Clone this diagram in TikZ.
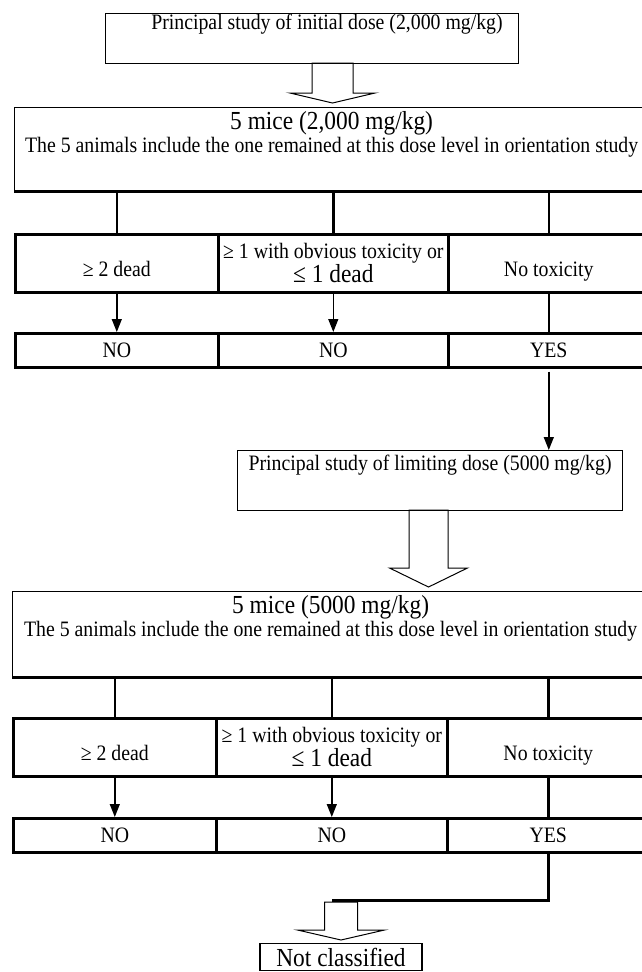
\documentclass[tikz,border=0pt]{standalone}
\usepackage{fontspec}
\setmainfont{Liberation Serif}[FakeStretch=0.9]
\usetikzlibrary{arrows.meta, positioning}

\newcommand{\largefont}{\fontsize{26}{30}\selectfont}
% x, top, shaft half width, shaft length, head half width, head length
\newcommand{\hollowdown}[6]{%
  \draw[hollow] (#1-#3,#2) -- ++(0,#4) -- (#1-#5,#2+#4) -- (#1,#2+#4+#6)
    -- (#1+#5,#2+#4) -- (#1+#3,#2+#4) -- (#1+#3,#2) -- cycle;}

\begin{document}
\begin{tikzpicture}[
  x=1pt, y=-1pt,
  every node/.style={inner sep=0pt, font=\fontsize{22}{24}\selectfont},
  thinbox/.style={draw, line width=1.2pt},
  cell/.style={draw, line width=2.6pt, anchor=north west, minimum height=58pt},
  answer/.style={draw, line width=2.6pt, anchor=north west, minimum height=34pt},
  lowtext/.style={text height=31pt, text depth=5pt},
  link/.style={line width=2.6pt},
  arrow/.style={-{Triangle[width=10pt,length=13pt]}, line width=1.4pt},
  hollow/.style={line width=1pt}
]
\useasboundingbox (0,0) rectangle (641,972);

% initial dose
\node (initial) [thinbox, anchor=north west, minimum width=413pt, minimum height=50pt] at (105,13) {};
\node (initialtxt) at (327,24) {Principal study of initial dose (2,000 mg/kg)};
\hollowdown{332.5}{63}{20.5}{30}{42.5}{10}

\node (mice1) [thinbox, anchor=north west, minimum width=634pt, minimum height=83pt] at (14,107) {};
\node (mice1txt) [below=4pt of mice1.north, align=center]
  {{\largefont 5 mice (2,000 mg/kg)}\\[-1pt]The 5 animals include the one remained at this dose level in orientation study};
\draw[link] (mice1.south west) -- (mice1.south east);

\node (dead1) [cell, lowtext, minimum width=203pt] at (14,233) {≥ 2 dead};
\node (tox1) [cell, minimum width=230pt, align=center] at (217,233)
  {≥ 1 with obvious toxicity or\\[0pt]{\largefont ≤ 1 dead}};
\node (none1) [cell, lowtext, minimum width=201pt] at (447,233) {No toxicity};

\draw[link] (dead1.north |- mice1.south) -- (dead1.north);
\draw[link] (tox1.north |- mice1.south) -- (tox1.north);
\draw[link] (none1.north |- mice1.south) -- (none1.north);

\node (no1a) [answer, minimum width=203pt] at (14,332) {NO};
\node (no1b) [answer, minimum width=230pt] at (217,332) {NO};
\node (yes1) [answer, minimum width=201pt] at (447,332) {YES};

\draw[arrow] (dead1.south) -- (no1a.north);
\draw[arrow] (tox1.south) -- (no1b.north);
\draw[link] (none1.south) -- (yes1.north);

% limiting dose
\node (limit) [thinbox, anchor=north west, minimum width=385pt, minimum height=60pt] at (237,450) {};
\node (limittxt) [below=5pt of limit.north] {Principal study of limiting dose (5000 mg/kg)};
\draw[arrow] ([yshift=-3pt]yes1.south) -- (yes1.south |- limit.north);
\hollowdown{428.5}{510}{19.5}{58}{39}{19}

\node (mice2) [thinbox, anchor=north west, minimum width=636pt, minimum height=85pt] at (12,591) {};
\node (mice2txt) [below=4pt of mice2.north, align=center]
  {{\largefont 5 mice (5000 mg/kg)}\\[-1pt]The 5 animals include the one remained at this dose level in orientation study};
\draw[link] (mice2.south west) -- (mice2.south east);

\node (dead2) [cell, lowtext, minimum width=203pt] at (12,717) {≥ 2 dead};
\node (tox2) [cell, minimum width=231pt, align=center] at (215,717)
  {≥ 1 with obvious toxicity or\\[0pt]{\largefont ≤ 1 dead}};
\node (none2) [cell, lowtext, minimum width=202pt] at (446,717) {No toxicity};

\draw[link] (dead2.north |- mice2.south) -- (dead2.north);
\draw[link] (tox2.north |- mice2.south) -- (tox2.north);
\draw[link] (none2.north |- mice2.south) -- (none2.north);

\node (no2a) [answer, minimum width=203pt] at (12,817) {NO};
\node (no2b) [answer, minimum width=231pt] at (215,817) {NO};
\node (yes2) [answer, minimum width=202pt] at (446,817) {YES};

\draw[arrow] (dead2.south) -- (no2a.north);
\draw[arrow] (tox2.south) -- (no2b.north);
\draw[link] (none2.south) -- (yes2.north);

% result
\coordinate (turn) at ([yshift=-47pt]yes2.south);
\draw[link] (yes2.south) -- (turn) -- (turn -| no2b.south);
\hollowdown{341}{902}{16.5}{28}{43.5}{10}
\node (notclass) [thinbox, font=\largefont, anchor=north, minimum width=162pt, minimum height=27pt] at (341,943) {Not classified};

\end{tikzpicture}
\end{document}
